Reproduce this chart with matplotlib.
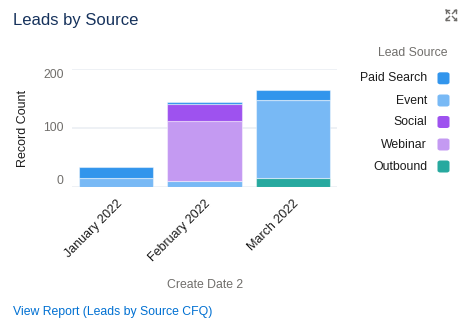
import matplotlib
matplotlib.use("Agg")
import matplotlib.pyplot as plt
from matplotlib.patches import FancyBboxPatch
import numpy as np

plt.rcParams["font.family"] = ["Liberation Sans", "DejaVu Sans"]

# Data
months = ["January 2022", "February 2022", "March 2022"]
paid_search = [18, 4, 17]
event = [15, 9, 133]
social = [0, 29, 0]
webinar = [0, 103, 0]
outbound = [0, 0, 14]

# Stack order from bottom to top, and legend order
stack = [
    ("Outbound", outbound, "#27a99f"),
    ("Event", event, "#78b9f5"),
    ("Webinar", webinar, "#c49af2"),
    ("Social", social, "#9e52ef"),
    ("Paid Search", paid_search, "#3295ec"),
]
legend_order = ["Paid Search", "Event", "Social", "Webinar", "Outbound"]
yticks = [0, 100, 200]

W, H = 467, 331
fig = plt.figure(figsize=(W / 100, H / 100), dpi=100)
fig.patch.set_facecolor("white")


def fx(px):
    return px / W


def fy(py):
    return 1 - py / H


ax = fig.add_axes([fx(72), fy(186.7), fx(337) - fx(72), fy(69.3) - fy(186.7)])
x = np.arange(len(months))
bottom = np.zeros(len(months))
colors = {}
for name, vals, col in stack:
    vals = np.array(vals, dtype=float)
    colors[name] = col
    ax.bar(x, vals, bottom=bottom, width=0.84, color=col,
           edgecolor=(1, 1, 1, 0.45), linewidth=0.8, zorder=3)
    bottom += vals

ax.set_xlim(-0.5, 2.5)
ax.set_ylim(0, 200)
for s in ax.spines.values():
    s.set_visible(False)
for t in yticks:
    ax.axhline(t, color="#edf0f4", linewidth=1.3, zorder=1)

ax.set_yticks(yticks)
ax.set_yticklabels([str(t) for t in yticks])
ax.tick_params(axis="y", length=0, pad=6, labelsize=8.8, labelcolor="#706e6b")
for lab, va in zip(ax.get_yticklabels(), ["bottom", "center", "top"]):
    lab.set_va(va)

ax.set_xticks(x)
ax.set_xticklabels(months, rotation=45, ha="right", rotation_mode="anchor")
ax.tick_params(axis="x", length=0, pad=8, labelsize=9, labelcolor="#1b1b1b")

ax.set_ylabel("Record Count", fontsize=9, color="#1b1b1b", labelpad=10)

# Titles and captions
fig.text(fx(13), fy(21), "Leads by Source", fontsize=12, color="#16325c",
         ha="left", va="center")
fig.text(fx(205), fy(285.5), "Create Date 2", fontsize=8.8, color="#706e6b",
         ha="center", va="center")
fig.text(fx(13), fy(312), "View Report (Leads by Source CFQ)", fontsize=8.8,
         color="#0070d2", ha="left", va="center")

# Legend
fig.text(fx(448), fy(53), "Lead Source", fontsize=8.8, color="#706e6b",
         ha="right", va="center")
leg_y = [78.3, 100.5, 122, 144.5, 166.5]
for name, yy in zip(legend_order, leg_y):
    fig.text(fx(427), fy(yy), name, fontsize=8.8, color="#1b1b1b",
             ha="right", va="center")
    sq = FancyBboxPatch((fx(437.5), fy(yy + 6)), fx(12), 12 / H,
                        boxstyle="round,pad=0,rounding_size=0.006",
                        transform=fig.transFigure, facecolor=colors[name],
                        edgecolor="none")
    fig.patches.append(sq)

# Expand icon in the top-right corner
cx, cy = 451, 15
for dx, dy in [(-1, -1), (1, -1), (-1, 1), (1, 1)]:
    x0, y0 = cx + dx * 1.5, cy + dy * 1.5
    x1, y1 = cx + dx * 5, cy + dy * 5
    fig.add_artist(plt.Line2D([fx(x0), fx(x1)], [fy(y0), fy(y1)],
                              color="#706e6b", linewidth=1.0,
                              transform=fig.transFigure))
    fig.add_artist(plt.Line2D([fx(x1), fx(x1 - dx * 2.5)], [fy(y1), fy(y1)],
                              color="#706e6b", linewidth=1.0,
                              transform=fig.transFigure))
    fig.add_artist(plt.Line2D([fx(x1), fx(x1)], [fy(y1), fy(y1 - dy * 2.5)],
                              color="#706e6b", linewidth=1.0,
                              transform=fig.transFigure))

fig.savefig("out.png", dpi=100, facecolor="white")
